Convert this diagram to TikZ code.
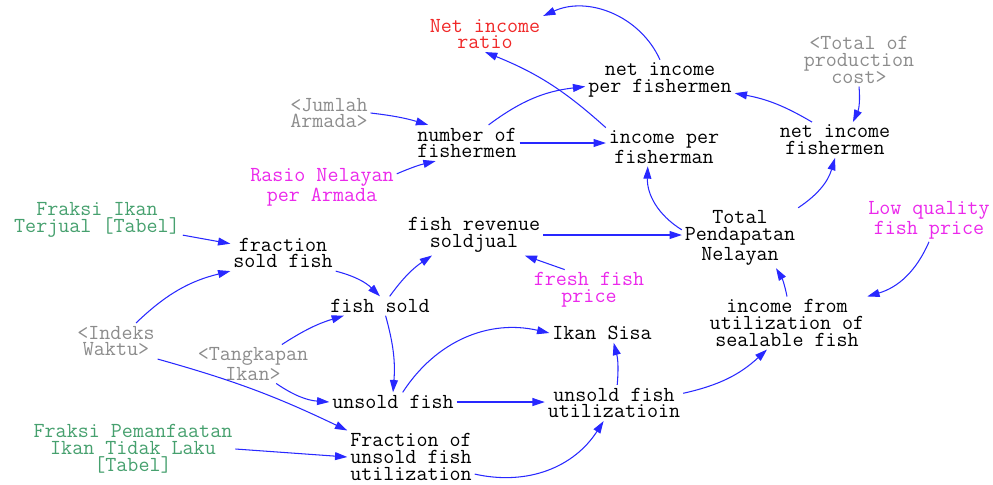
\documentclass[tikz,border=0pt]{standalone}
\usepackage{fontspec}
\usepackage{xcolor}
\usepackage{tikz}
\usetikzlibrary{arrows.meta}
\definecolor{linkblue}{RGB}{40,40,255}
\definecolor{shadowgray}{RGB}{140,140,140}
\definecolor{tablegreen}{RGB}{70,160,110}
\definecolor{constmag}{RGB}{235,40,235}
\definecolor{outred}{RGB}{240,40,40}

\begin{document}
\begin{tikzpicture}[
  x=0.02cm, y=0.02cm,
  var/.style={align=center, inner sep=1.5pt, font=\ttfamily\fontsize{12.2}{9.6}\selectfont},
  shadow/.style={var, text=shadowgray},
  tablevar/.style={var, text=tablegreen},
  const/.style={var, text=constmag},
  output/.style={var, text=outred},
  arr/.style={-{Triangle[length=7pt, width=4.5pt]}, linkblue, line width=0.6pt}
]
\useasboundingbox (0,0) rectangle (993,-484);
% variables
\node[output] (ratio) at (485,-34) {Net income\\ratio};
\node[var] (nipf) at (660,-80) {net income\\per fishermen};
\node[shadow] (tpc) at (859,-60) {<Total of\\production\\cost>};
\node[shadow] (ja) at (329,-113) {<Jumlah\\Armada>};
\node[var] (nof) at (467,-143) {number of\\fishermen};
\node[var] (ipf) at (664,-147) {income per\\fisherman};
\node[var] (nif) at (835,-140) {net income\\fishermen};
\node[const] (rna) at (322,-187) {Rasio Nelayan\\per Armada};
\node[tablevar] (fit) at (97,-220) {Fraksi Ikan\\Terjual [Tabel]};
\node[var] (frs) at (474,-235) {fish revenue\\soldjual};
\node[var] (tpn) at (740,-238) {Total\\Pendapatan\\Nelayan};
\node[const] (lqp) at (929,-220) {Low quality\\fish price};
\node[var] (fsf) at (283,-253) {fraction\\sold fish};
\node[var] (fs) at (380,-306) {fish sold};
\node[const] (ffp) at (589,-290) {fresh fish\\price};
\node[var] (iuf) at (787,-323) {income from\\utilization of\\sealable fish};
\node[shadow] (iw) at (116,-341) {<Indeks\\Waktu>};
\node[var] (is) at (602,-333) {Ikan Sisa};
\node[shadow] (ti) at (253,-364) {<Tangkapan\\Ikan>};
\node[var] (uf) at (393,-402) {unsold fish};
\node[var] (ufu) at (614,-403) {unsold fish\\utilizatioin};
\node[tablevar] (fpi) at (133,-449) {Fraksi Pemanfaatan\\Ikan Tidak Laku\\{[Tabel]}};
\node[var] (fuf) at (411,-457) {Fraction of\\unsold fish\\utilization};
% links
\draw[arr] (nipf.north) to[bend right=45] (ratio.north east);
\draw[arr] (ipf.north west) to[bend right=10] (ratio.south);
\draw[arr] (nof.40) to[bend left=15] (nipf.185);
\draw[arr] (nof.east) -- (nof.east -| ipf.west);
\draw[arr] (ja.east) to[bend left=5] (nof.155);
\draw[arr] (rna.10) to[bend left=5] (nof.-150);
\draw[arr] (tpc.south) to[bend left=15] (nif.45);
\draw[arr] (nif.142) to[bend right=10] (nipf.-10);
\draw[arr] (tpn.172) to[bend left=30] (ipf.-130);
\draw[arr] (tpn.north east) to[bend right=20] (nif.south);
\draw[arr] (frs.east) -- (frs.east -| tpn.west);
\draw[arr] (lqp.south) to[bend left=25] (iuf.north east);
\draw[arr] (iuf.north) to[bend right=10] (tpn.-40);
\draw[arr] (ffp.140) -- (frs.-22);
\draw[arr] (fit.-10) -- (fsf.170);
\draw[arr] (fsf.south east) to[bend left=15] (fs.north);
\draw[arr] (fs.45) to[bend left=10] (frs.-154);
\draw[arr] (iw.42) to[bend left=15] (fsf.south west);
\draw[arr] (iw.south east) to[bend left=5] (fuf.north west);
\draw[arr] (ti.34) to[bend left=8] (fs.-165);
\draw[arr] (ti.-40) to[bend right=15] (uf.west);
\draw[arr] (fs.-60) to[bend left=10] (uf.north);
\draw[arr] (uf.45) to[bend left=35] (is.west);
\draw[arr] (uf.east) -- (uf.east -| ufu.west);
\draw[arr] (ufu.80) to[bend right=10] (is.-40);
\draw[arr] (ufu.8) to[bend right=15] (iuf.-127);
\draw[arr] (fpi.east) -- (fuf.west);
\draw[arr] (fuf.-15) to[bend right=35] (ufu.-120);
\end{tikzpicture}
\end{document}
